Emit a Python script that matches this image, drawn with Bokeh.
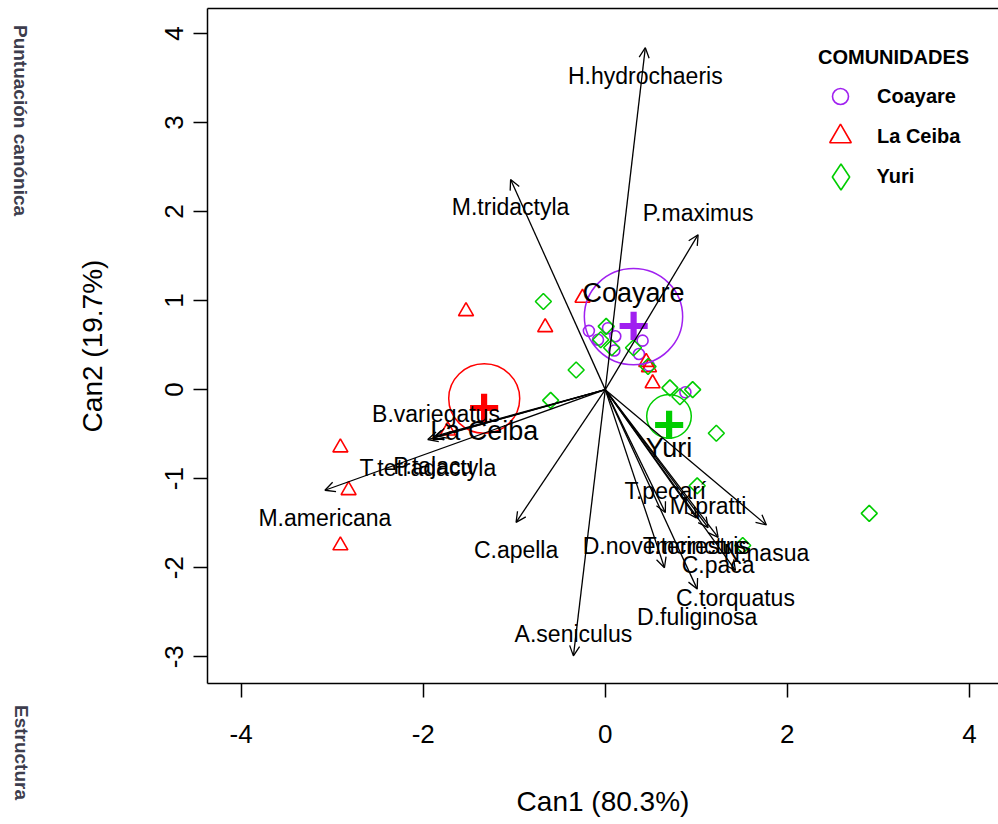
import math
from bokeh.plotting import figure
from bokeh.layouts import row
from bokeh.models import (ColumnDataSource, Arrow, OpenHead, FixedTicker, LinearAxis,
                          Legend, LegendItem, Range1d)
from bokeh.core.properties import value
from bokeh.embed import file_html
from bokeh.resources import INLINE

# ---- canonical scores of the sampling units, by community ----
coayare_x = [-0.18, -0.08, 0.03, 0.11, 0.10, 0.41, 0.37, 0.48, 0.88]
coayare_y = [0.66, 0.56, 0.69, 0.60, 0.44, 0.55, 0.40, 0.27, -0.03]

laceiba_x = [-1.53, -0.66, -0.25, 0.45, 0.48, 0.52, -2.91, -2.82, -2.91, -1.73]
laceiba_y = [0.88, 0.70, 1.03, 0.31, 0.25, 0.07, -0.65, -1.13, -1.75, -0.46]

yuri_x = [-0.68, 0.01, -0.05, 0.07, 0.31, 0.47, -0.32, -0.60, 0.71, 0.82, 0.96,
          1.22, 1.01, 1.51, 2.90]
yuri_y = [0.99, 0.71, 0.56, 0.47, 0.47, 0.26, 0.22, -0.12, 0.02, -0.08, 0.00,
          -0.49, -1.08, -1.75, -1.39]

# ---- group means and confidence circles ----
groups = ["Coayare", "La Ceiba", "Yuri"]
centroid_x = [0.31, -1.33, 0.70]
centroid_y = [0.82, -0.10, -0.30]
circle_radius = [0.54, 0.39, 0.245]
group_label_side = ["above", "below", "below"]

# ---- structure coefficients (variable vectors) ----
species = ["H.hydrochaeris", "M.tridactyla", "P.maximus", "B.variegatus",
           "T.tetradactyla", "P.tajacu", "M.americana", "C.apella", "A.seniculus",
           "T.pecarí", "M.pratti", "D.novemcinctus", "T.terrestris", "C.paca",
           "N.nasua", "C.torquatus", "D.fuliginosa"]
struct_x = [0.44, -1.04, 1.02, -1.86, -1.95, -1.89, -3.08, -0.98, -0.35,
            0.66, 1.13, 0.65, 1.00, 1.24, 1.77, 1.43, 1.01]
struct_y = [3.84, 2.36, 1.74, -0.52, -0.56, -0.54, -1.13, -1.49, -2.99,
            -1.38, -1.55, -2.00, -1.44, -1.66, -1.52, -2.03, -2.24]
species_label_side = ["below", "below", "above", "above", "below", "below", "below",
                      "below", "above", "above", "above", "above", "below", "below",
                      "below", "below", "below"]

x_ticks = [-4, -2, 0, 2, 4]
y_ticks = [-3, -2, -1, 0, 1, 2, 3, 4]

side_captions = ["Puntuación canónica", "Estructura"]

PURPLE = "#A020F0"
RED = "#FF0000"
GREEN = "#00CD00"
group_colors = [PURPLE, RED, GREEN]
FONT = "Liberation Sans"

TOTAL_W, TOTAL_H = 998, 824
SIDE_W = 40
X0, X1 = -4.37, 4.32
Y0, Y1 = -3.30, 4.28
FRAME_L, FRAME_T, FRAME_W, FRAME_H = 207, 8, 791, 675
FRAME_B = FRAME_T + FRAME_H

# ---------------- main biplot ----------------
p = figure(width=TOTAL_W - SIDE_W, height=TOTAL_H, x_range=Range1d(X0, X1),
           y_range=Range1d(Y0, Y1), output_backend="svg", toolbar_location=None,
           min_border_left=FRAME_L - SIDE_W, min_border_right=0,
           min_border_top=FRAME_T, min_border_bottom=TOTAL_H - FRAME_B)
p.frame_align = False
p.outline_line_color = None
p.xgrid.visible = False
p.ygrid.visible = False
p.background_fill_color = "white"
p.border_fill_color = "white"

for ax, ticks in ((p.xaxis[0], x_ticks), (p.yaxis[0], y_ticks)):
    ax.ticker = FixedTicker(ticks=ticks)
    ax.major_label_overrides = {t: str(t) for t in ticks}
    ax.major_tick_out = 14
    ax.major_tick_in = 0
    ax.minor_tick_line_color = None
    ax.major_tick_line_width = 1.5
    ax.axis_line_width = 1.5
    ax.major_tick_line_color = "black"
    ax.axis_line_color = "black"
    ax.major_label_text_font = FONT
    ax.major_label_text_font_size = "26px"
    ax.major_label_text_color = "black"
    ax.axis_label_text_font = FONT
    ax.axis_label_text_font_size = "28px"
    ax.axis_label_text_font_style = "normal"
    ax.axis_label_text_color = "black"

p.xaxis[0].axis_label = "Can1 (80.3%)"
p.xaxis[0].major_label_standoff = 27
p.xaxis[0].axis_label_standoff = 40
p.yaxis[0].axis_label = "Can2 (19.7%)"
p.yaxis[0].major_label_orientation = "vertical"
p.yaxis[0].major_label_standoff = 10
p.yaxis[0].axis_label_standoff = 55

# top edge of the plotting box
top = LinearAxis(ticker=FixedTicker(ticks=[]), major_tick_out=0, major_tick_in=0,
                 minor_tick_out=0, minor_tick_in=0, major_label_text_font_size="0px",
                 axis_line_color="black", axis_line_width=1.5)
p.add_layout(top, "above")

# observations
p.scatter(coayare_x, coayare_y, marker="circle", size=11, fill_color=None,
          line_color=PURPLE, line_width=1.6)
p.scatter(laceiba_x, laceiba_y, marker="triangle", size=15, fill_color=None,
          line_color=RED, line_width=1.6)
p.scatter(yuri_x, yuri_y, marker="square", angle=math.pi / 4, size=11.3,
          fill_color=None, line_color=GREEN, line_width=1.6)

# group circles and means
p.ellipse(x=centroid_x, y=centroid_y, width=[2 * r for r in circle_radius],
          height=[2 * r for r in circle_radius], fill_color=None,
          line_color=group_colors, line_width=1.5)
p.text(x=centroid_x, y=centroid_y, text=["+"] * 3, text_color=group_colors,
       text_font_size="56px", text_font=value(FONT), text_font_style="bold",
       text_align="center", text_baseline="middle", y_offset=[8] * 3)

# structure vectors
vec_src = ColumnDataSource(dict(x0=[0.0] * len(species), y0=[0.0] * len(species),
                                x1=struct_x, y1=struct_y))
p.add_layout(Arrow(source=vec_src, x_start="x0", y_start="y0", x_end="x1", y_end="y1",
                   line_color="black", line_width=1.3,
                   end=OpenHead(size=10, line_color="black", line_width=1.3)))

side_off = {"below": 28, "above": -22}
lab_src = ColumnDataSource(dict(x=struct_x, y=struct_y, t=species,
                                dy=[side_off[s] for s in species_label_side]))
p.text(x="x", y="y", text="t", y_offset="dy", source=lab_src, text_font=value(FONT),
       text_font_size="23px", text_color="black", text_align="center",
       text_baseline="middle")

grp_off = {"below": 32, "above": -24}
grp_src = ColumnDataSource(dict(x=centroid_x, y=centroid_y, t=groups,
                                dy=[grp_off[s] for s in group_label_side]))
p.text(x="x", y="y", text="t", y_offset="dy", source=grp_src, text_font=value(FONT),
       text_font_size="27px", text_color="black", text_align="center",
       text_baseline="middle")

# legend: one block per community so each key gets its own size
nan = float("nan")
key_markers = ["circle", "triangle", "diamond"]
key_box = [40, 54, 65]          # legend glyph box (key size = 0.4 * box)
key_center_y = [96, 136, 176]   # row centres, px from the top
KEY_CX, LABEL_X = 840, 877
for i, (g, m, c) in enumerate(zip(groups, key_markers, group_colors)):
    proxy = p.scatter(x=[nan], y=[nan], marker=m, fill_color=None, line_color=c,
                      line_width=1.6)
    box = key_box[i]
    gw = box + 4 if i == 0 else box
    left = KEY_CX - gw / 2
    bottom = key_center_y[i] + box / 2
    opts = dict(items=[LegendItem(label=g, renderers=[proxy])],
                location=(left - FRAME_L, FRAME_B - bottom),
                label_text_font=FONT, label_text_font_size="20px",
                label_text_font_style="bold", label_text_color="black",
                label_standoff=int(round(LABEL_X - left - gw)),
                glyph_width=int(gw), glyph_height=box, spacing=0, padding=0, margin=0,
                border_line_color=None, background_fill_alpha=0)
    if i == 0:
        opts.update(title="COMUNIDADES", title_text_font=FONT,
                    title_text_font_size="20px", title_text_font_style="bold",
                    title_text_color="black", title_standoff=7)
    p.add_layout(Legend(**opts))

# ---------------- left margin captions ----------------
side = figure(width=SIDE_W, height=TOTAL_H, x_range=Range1d(0, SIDE_W),
              y_range=Range1d(0, TOTAL_H), output_backend="svg", toolbar_location=None,
              min_border=0)
side.frame_align = False
side.axis.visible = False
side.grid.visible = False
side.outline_line_color = None
side.border_fill_color = "white"
side.background_fill_color = "white"
side.text(x=[20, 21], y=[TOTAL_H - 120, TOTAL_H - 752], text=side_captions,
          angle=-math.pi / 2, text_font=value(FONT), text_font_size="19px",
          text_font_style="bold", text_color="#3d3d4d", text_align="center",
          text_baseline="middle")

layout = row(side, p, spacing=0)
open("out.html", "w").write(file_html(layout, INLINE))
